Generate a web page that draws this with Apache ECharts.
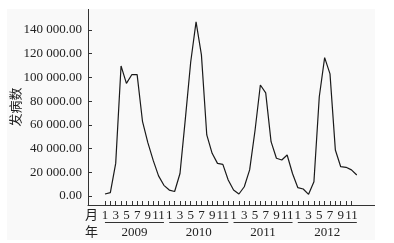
<!DOCTYPE html>
<html>
<head>
<meta charset="utf-8">
<script src="https://cdn.jsdelivr.net/npm/echarts@6/dist/echarts.min.js"></script>
<style>
html,body{margin:0;padding:0;background:#fff;width:394px;height:243px;overflow:hidden;}
#c{position:absolute;left:7px;top:9px;width:368px;height:231px;background:#f9f9f9;}
</style>
</head>
<body>
<div id="c"></div>
<script>
// Monthly case counts, Jan 2009 - Dec 2012
const years = ['2009', '2010', '2011', '2012'];
const cases2009 = [1700, 2800, 27500, 109700, 95000, 102300, 102300, 63000, 45000, 30000, 17000, 9000];
const cases2010 = [5000, 3800, 19000, 65000, 113000, 146800, 119000, 51500, 36000, 27500, 26700, 13500];
const cases2011 = [5000, 1700, 7800, 22000, 55000, 93600, 87000, 45800, 31800, 30400, 34600, 19000];
const cases2012 = [7000, 5900, 1400, 12000, 83700, 116700, 103000, 38800, 24700, 24200, 22000, 17700];
const yTicks = [0, 20000, 40000, 60000, 80000, 100000, 120000, 140000];
const monthLabel = '月';
const yearLabel = '年';
const yName = '发病数';

const all = [].concat(cases2009, cases2010, cases2011, cases2012);
const data = all.map((v, i) => [i, v]);
const monthTicks = [];
for (let i = 0; i < all.length - 1; i++) monthTicks.push(i);
const monthLabelVals = [-2.5];
for (let i = 0; i < all.length; i += 2) monthLabelVals.push(i);
const yearVals = [-2.5].concat(years.map((y, k) => k * 12 + 5.5));

function fmtY(v) {
  const s = Math.round(v).toString().replace(/\B(?=(\d{3})+(?!\d))/g, ' ');
  return s + '.00';
}
const font = '"Liberation Serif", "Noto Sans CJK SC", serif';
const txt = '#222';

const chart = echarts.init(document.getElementById('c'));
chart.setOption({
  animation: false,
  textStyle: { fontFamily: font },
  grid: { left: 81, top: 0, right: 0, bottom: 35, containLabel: false, outerBoundsMode: 'none' },
  xAxis: [{
    type: 'value', min: -3.17, max: 50.4, position: 'bottom',
    axisLine: { show: true, onZero: false, lineStyle: { color: '#333', width: 1 } },
    axisTick: { show: true, inside: true, length: 4, customValues: monthTicks, lineStyle: { color: '#333' } },
    axisLabel: {
      customValues: monthLabelVals, hideOverlap: false, margin: 4,
      fontSize: 13, color: txt, fontFamily: font,
      formatter: v => v < 0 ? monthLabel : String(Math.round(v) % 12 + 1)
    },
    splitLine: { show: false }
  }, {
    type: 'value', min: -3.17, max: 50.4, position: 'bottom',
    axisLine: { show: false, onZero: false }, axisTick: { show: false }, splitLine: { show: false },
    axisLabel: {
      customValues: yearVals, hideOverlap: false, margin: 17,
      fontSize: 13, color: txt, fontFamily: font,
      formatter: v => v < 0 ? '{e| }\n{y|' + yearLabel + '}' : '{l| }\n{y|' + years[Math.round((v - 5.5) / 12)] + '}',
      rich: {
        l: { width: 59, height: 1, lineHeight: 1, fontSize: 1, backgroundColor: '#333' },
        e: { width: 10, height: 1, lineHeight: 1, fontSize: 1 },
        y: { fontSize: 13, lineHeight: 19, color: txt, fontFamily: font }
      }
    }
  }],
  yAxis: {
    type: 'value', min: -7590, max: 157700,
    name: yName, nameLocation: 'middle', nameGap: 66, nameRotate: 90, nameMoveOverlap: false,
    nameTextStyle: { fontSize: 13, color: txt, fontFamily: '"Noto Sans CJK SC", sans-serif' },
    axisLine: { show: true, onZero: false, lineStyle: { color: '#333', width: 1 } },
    axisTick: { show: true, inside: true, length: 4, customValues: yTicks, lineStyle: { color: '#333' } },
    axisLabel: { customValues: yTicks, margin: 6, fontSize: 13, color: txt, fontFamily: font, formatter: fmtY },
    splitLine: { show: false }
  },
  series: [{
    type: 'line', data: data, xAxisIndex: 0, showSymbol: false, symbol: 'none',
    lineStyle: { color: '#1a1a1a', width: 1.2 }
  }]
});
</script>
</body>
</html>
